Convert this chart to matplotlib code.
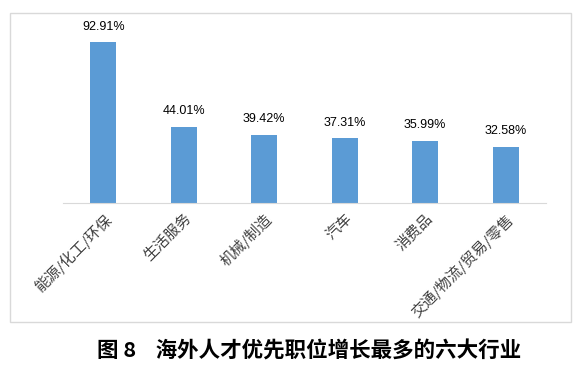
import matplotlib.pyplot as plt
from matplotlib.patches import Rectangle
import numpy as np

plt.rcParams['font.family'] = ['Noto Sans CJK SC', 'DejaVu Sans']

categories = ['能源/化工/环保', '生活服务', '机械/制造', '汽车', '消费品', '交通/物流/贸易/零售']
values = [92.91, 44.01, 39.42, 37.31, 35.99, 32.58]
value_labels = ['92.91%', '44.01%', '39.42%', '37.31%', '35.99%', '32.58%']
title = '图 8    海外人才优先职位增长最多的六大行业'

W, H = 576, 367
fig = plt.figure(figsize=(W / 100, H / 100), dpi=100)

# chart frame
fig.patches.append(Rectangle((10 / W, 1 - 322 / H), 561 / W, 309 / H,
                             transform=fig.transFigure, fill=False,
                             edgecolor='#d9d9d9', linewidth=1))

ax = fig.add_axes([63 / W, 1 - 203 / H, 483 / W, 173 / H])
x = np.arange(len(categories))
ax.bar(x, values, width=0.32, color='#5b9bd5', zorder=2)
ax.set_xlim(-0.5, len(categories) - 0.5)
ax.set_ylim(0, 100)
ax.set_yticks([])
for s in ['top', 'right', 'left']:
    ax.spines[s].set_visible(False)
ax.spines['bottom'].set_color('#d9d9d9')
ax.tick_params(axis='x', length=0, pad=6)
ax.set_xticks(x)
ax.set_xticklabels(categories, rotation=45, ha='right', va='top',
                   rotation_mode='anchor', fontsize=10.8, color='#404040')

for xi, v, lab in zip(x, values, value_labels):
    ax.annotate(lab, (xi, v), xytext=(0, 7), textcoords='offset points',
                ha='center', va='bottom', fontsize=9, color='#000000',
                family=['Liberation Sans', 'DejaVu Sans'])

fig.text(309 / W, 1 - 351 / H, title, ha='center', va='center',
         fontsize=15.5, fontweight='bold', color='#000000')

fig.savefig('out.png', dpi=100)
